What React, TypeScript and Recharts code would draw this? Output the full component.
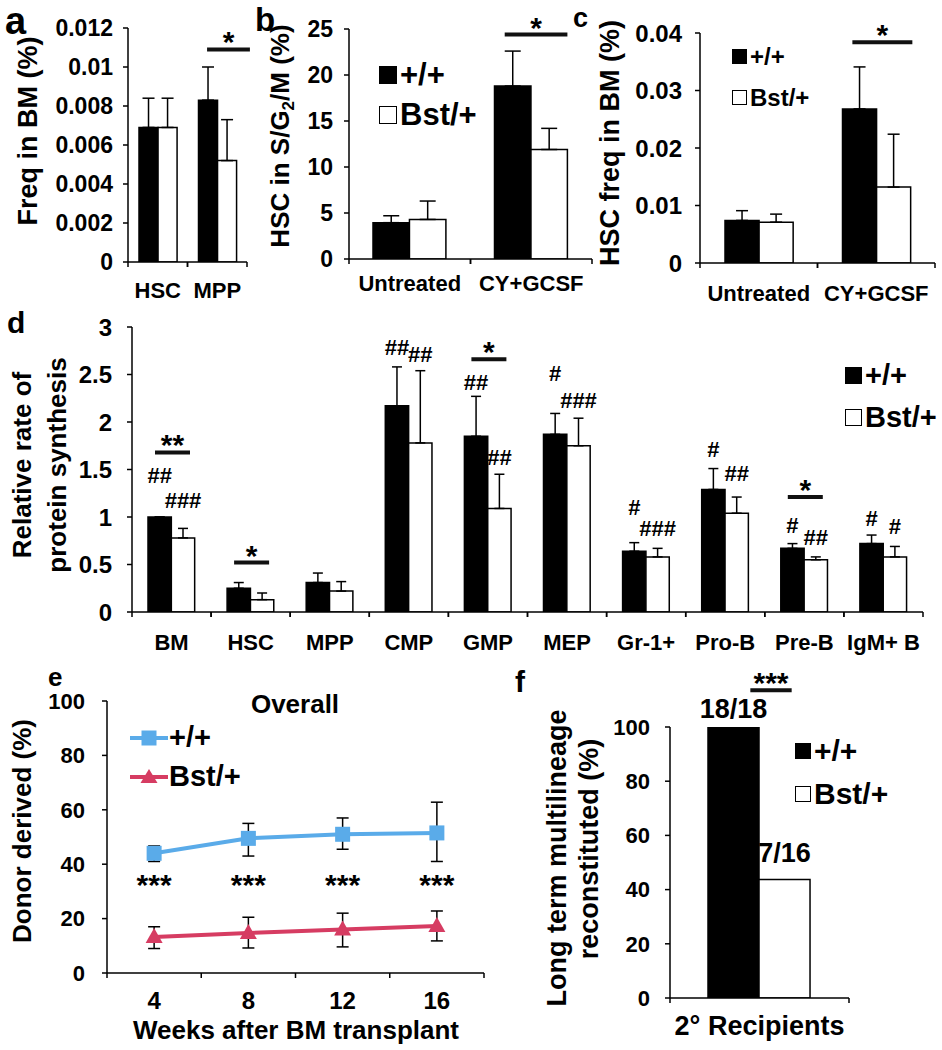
import React from 'react'
import {
  BarChart, Bar, LineChart, Line, XAxis, YAxis, ErrorBar, LabelList, Legend,
} from 'recharts'

const FONT = '"Liberation Sans", Arial, Helvetica, sans-serif'
const BLUE = '#5aabe9'
const RED = '#d63c62'
const AXIS = { stroke: '#000', strokeWidth: 1.5 }

// a: frequency in BM
const aCats = ['HSC', 'MPP']
const aWT = [0.0069, 0.0083]
const aWTTop = [0.0084, 0.01]
const aBst = [0.0069, 0.0052]
const aBstTop = [0.0084, 0.0073]
const aSig = ['', '*']
const aSigAt = [0, 0.0109]
const aTicks = [0, 0.002, 0.004, 0.006, 0.008, 0.01, 0.012]

// b: HSC in S/G2/M
const bCats = ['Untreated', 'CY+GCSF']
const bWT = [3.95, 18.8]
const bWTTop = [4.7, 22.6]
const bBst = [4.3, 11.9]
const bBstTop = [6.3, 14.2]
const bSig = ['', '*']
const bSigAt = [0, 24.4]
const bTicks = [0, 5, 10, 15, 20, 25]

// c: HSC freq in BM
const cCats = ['Untreated', 'CY+GCSF']
const cWT = [0.0074, 0.0268]
const cWTTop = [0.0091, 0.0341]
const cBst = [0.0071, 0.0132]
const cBstTop = [0.0085, 0.0224]
const cSig = ['', '*']
const cSigAt = [0, 0.0384]
const cTicks = [0, 0.01, 0.02, 0.03, 0.04]

// d: relative rate of protein synthesis
const dCats = ['BM', 'HSC', 'MPP', 'CMP', 'GMP', 'MEP', 'Gr-1+', 'Pro-B', 'Pre-B', 'IgM+ B']
const dWT = [1.0, 0.25, 0.31, 2.17, 1.85, 1.87, 0.64, 1.29, 0.67, 0.72]
const dWTTop = [1.0, 0.31, 0.41, 2.58, 2.27, 2.09, 0.73, 1.51, 0.72, 0.81]
const dBst = [0.78, 0.13, 0.22, 1.78, 1.09, 1.75, 0.58, 1.04, 0.55, 0.58]
const dBstTop = [0.88, 0.2, 0.32, 2.54, 1.45, 2.04, 0.67, 1.21, 0.58, 0.69]
const dSig = ['**', '*', '', '', '*', '', '', '', '*', '']
const dSigAt = [1.68, 0.52, 0, 0, 2.66, 0, 0, 0, 1.21, 0]
const dWTMark = ['##', '', '', '##', '##', '#', '#', '#', '#', '#']
const dWTMarkAt = [1.44, 0, 0, 2.79, 2.42, 2.52, 1.11, 1.72, 0.92, 0.99]
const dBstMark = ['###', '', '', '##', '##', '###', '###', '##', '##', '#']
const dBstMarkAt = [1.18, 0, 0, 2.72, 1.63, 2.23, 0.88, 1.46, 0.79, 0.91]
const dTicks = [0, 0.5, 1, 1.5, 2, 2.5, 3]

// e: donor derived over time
const eWeeks = [4, 8, 12, 16]
const eWT = [44, 49.5, 51, 51.5]
const eWTLo = [41, 43, 45.5, 41]
const eWTHi = [46.7, 55, 57, 62.8]
const eBst = [13.2, 14.7, 16, 17.3]
const eBstLo = [9, 9.2, 9.6, 11.8]
const eBstHi = [17, 20.5, 22, 22.8]
const eStars = ['***', '***', '***', '***']
const eStarAt = [35, 35, 35, 35]
const eTicks = [2, 4, 6, 8, 10, 12, 14, 16, 18]
const eYTicks = [0, 20, 40, 60, 80, 100]

// f: secondary recipients
const fCats = ['2° Recipients']
const fWT = [100]
const fBst = [43.75]
const fWTText = ['18/18']
const fBstText = ['7/16']
const fSig = ['***']
const fSigAt = [113.6]
const fTicks = [0, 20, 40, 60, 80, 100]

const geom = (p: any) => (p.viewBox && typeof p.viewBox.height === 'number' ? p.viewBox : p)

const vText = (x: number, y: number, size: number, children: React.ReactNode) => (
  <text x={x} y={y} transform={`rotate(-90 ${x} ${y})`} textAnchor="middle"
    fontSize={size} fontWeight={700} fill="#000" fontFamily={FONT}>{children}</text>
)

const sigLabel = (sig: string[], at: number[], vals: number[], span: number[]) => (p: any) => {
  const i = p.index
  if (!sig[i]) return null
  const v = geom(p)
  const ly = v.y + v.height - at[i] * (v.height / vals[i])
  const x1 = v.x + span[0] * v.width
  const x2 = v.x + span[1] * v.width
  return (
    <g>
      <line x1={x1} x2={x2} y1={ly} y2={ly} stroke="#111" strokeWidth={4} />
      <text x={(x1 + x2) / 2} y={ly + 3} textAnchor="middle" fontSize={30} fontWeight={700} fill="#000">{sig[i]}</text>
    </g>
  )
}

const hashLabel = (marks: string[], at: number[], vals: number[]) => (p: any) => {
  const i = p.index
  if (!marks[i]) return null
  const v = geom(p)
  const y = v.y + v.height - at[i] * (v.height / vals[i])
  return (
    <text x={v.x + v.width / 2} y={y + 8} textAnchor="middle" fontSize={22} fontWeight={700} fill="#000">{marks[i]}</text>
  )
}

const topLabel = (txt: string[], off: number) => (p: any) => {
  const v = geom(p)
  return (
    <text x={v.x + v.width / 2} y={v.y - off} textAnchor="middle" fontSize={27} fontWeight={700} fill="#000">{txt[p.index]}</text>
  )
}

// category ticks with tick marks on the band edges (excel style)
const catTick = (band: number, font: number, tm: number) => (p: any) => {
  const ay = p.y - tm - 5
  return (
    <g>
      <line x1={p.x - band / 2} x2={p.x - band / 2} y1={ay} y2={ay + 5} stroke="#000" strokeWidth={1.5} />
      <line x1={p.x + band / 2} x2={p.x + band / 2} y1={ay} y2={ay + 5} stroke="#000" strokeWidth={1.5} />
      <text x={p.x} y={p.y} dy="0.71em" textAnchor="middle" fontSize={font} fontWeight={700} fill="#000">{p.payload.value}</text>
    </g>
  )
}

const weekTick = (font: number, tm: number) => (p: any) => {
  const v = p.payload.value
  if (v % 4 === 2) {
    return <line x1={p.x} x2={p.x} y1={p.y - tm - 5} y2={p.y - tm} stroke="#000" strokeWidth={1.5} />
  }
  return <text x={p.x} y={p.y} dy="0.71em" textAnchor="middle" fontSize={font} fontWeight={700} fill="#000">{v}</text>
}

type Lg = { left: number, top: number, row: number, size: number, font: number }

const boxLegend = (L: Lg) => (p: any) => (
  <div style={{ fontFamily: FONT, fontWeight: 700, fontSize: L.font, color: '#000' }}>
    {(p.payload ?? []).map((e: any) => (
      <div key={e.value} style={{ display: 'flex', alignItems: 'center', height: L.row }}>
        <span style={{
          width: L.size, height: L.size, boxSizing: 'border-box', marginRight: 3,
          background: e.payload?.fill ?? e.color, border: '1.5px solid #000',
        }} />
        <span>{e.value}</span>
      </div>
    ))}
  </div>
)

const lineLegend = (p: any) => (
  <div style={{ fontFamily: FONT, fontWeight: 700, fontSize: 29, color: '#000' }}>
    {(p.payload ?? []).filter((e: any) => e.dataKey !== 'star' && e.type !== 'none').map((e: any, i: number) => (
      <div key={e.value} style={{ display: 'flex', alignItems: 'center', height: 39 }}>
        <svg width={38} height={20}>
          <line x1={0} x2={38} y1={10} y2={10} stroke={e.color} strokeWidth={4} />
          {i === 0
            ? <rect x={11.5} y={2.5} width={15} height={15} fill={e.color} />
            : <path d="M19,2 L27.5,16 L10.5,16 Z" fill={e.color} />}
        </svg>
        <span style={{ marginLeft: 1 }}>{e.value}</span>
      </div>
    ))}
  </div>
)

type Box = { left: number, top: number, w: number, h: number }
type Mg = { top: number, right: number, bottom: number, left: number }

function GroupBars(p: {
  box: Box, margin: Mg, yW: number, xH: number,
  cats: string[], wt: number[], bst: number[], wtTop?: number[], bstTop?: number[],
  ticks: number[], yFont: number, yTm: number, xFont: number, xTm: number,
  cap: number, fill: number, title: React.ReactNode, legend?: Lg,
  sig: string[], sigAt: number[], sigSpan: number[],
  wtMark?: string[], wtMarkAt?: number[], bstMark?: string[], bstMarkAt?: number[],
  wtText?: string[], bstText?: string[],
}) {
  const data = p.cats.map((cat, i) => ({
    cat,
    wt: p.wt[i],
    bst: p.bst[i],
    wtErr: [0, p.wtTop ? p.wtTop[i] - p.wt[i] : 0],
    bstErr: [0, p.bstTop ? p.bstTop[i] - p.bst[i] : 0],
  }))
  const band = (p.box.w - p.margin.left - p.margin.right - p.yW) / p.cats.length
  const barW = (band * p.fill) / 2
  const L = p.legend
  return (
    <div style={{ position: 'absolute', left: p.box.left, top: p.box.top }}>
      <BarChart width={p.box.w} height={p.box.h} data={data} margin={p.margin} barGap={0}>
        <XAxis dataKey="cat" height={p.xH} interval={0} axisLine={AXIS} tickLine={false}
          tickSize={5} tickMargin={p.xTm} tick={catTick(band, p.xFont, p.xTm)} />
        <YAxis width={p.yW} domain={[p.ticks[0], p.ticks[p.ticks.length - 1]]} ticks={p.ticks}
          interval={0} allowDataOverflow axisLine={AXIS} tickLine={AXIS} tickSize={5} tickMargin={p.yTm}
          tick={{ fill: '#000', fontSize: p.yFont, fontWeight: 700 }} label={() => p.title} />
        <Bar dataKey="wt" name="+/+" fill="#000" stroke="#000" strokeWidth={1.5} barSize={barW} isAnimationActive={false}>
          {p.wtTop && (
            <ErrorBar dataKey="wtErr" width={p.cap} stroke="#000" strokeWidth={1.5} direction="y" isAnimationActive={false} />
          )}
          <LabelList content={sigLabel(p.sig, p.sigAt, p.wt, p.sigSpan)} />
          {p.wtMark && <LabelList content={hashLabel(p.wtMark, p.wtMarkAt!, p.wt)} />}
          {p.wtText && <LabelList content={topLabel(p.wtText, 9)} />}
        </Bar>
        <Bar dataKey="bst" name="Bst/+" fill="#fff" stroke="#000" strokeWidth={1.5} barSize={barW} isAnimationActive={false}>
          {p.bstTop && (
            <ErrorBar dataKey="bstErr" width={p.cap} stroke="#000" strokeWidth={1.5} direction="y" isAnimationActive={false} />
          )}
          {p.bstMark && <LabelList content={hashLabel(p.bstMark, p.bstMarkAt!, p.bst)} />}
          {p.bstText && <LabelList content={topLabel(p.bstText, 17)} />}
        </Bar>
        {L && (
          <Legend layout="vertical" align="center" verticalAlign="middle"
            wrapperStyle={{ left: L.left, top: L.top, width: 'auto', height: 'auto' }} content={boxLegend(L)} />
        )}
      </BarChart>
    </div>
  )
}

export default function App() {
  const eData = eWeeks.map((week, i) => ({
    week,
    wt: eWT[i],
    wtErr: [eWT[i] - eWTLo[i], eWTHi[i] - eWT[i]],
    bst: eBst[i],
    bstErr: [eBst[i] - eBstLo[i], eBstHi[i] - eBst[i]],
    star: eStarAt[i],
  }))

  const squareDot = (d: any) => (
    <rect key={`sq${d.index}`} x={d.cx - 7.5} y={d.cy - 7.5} width={15} height={15} fill={BLUE} />
  )
  const triDot = (d: any) => (
    <path key={`tr${d.index}`} d={`M${d.cx},${d.cy - 9} L${d.cx + 8.5},${d.cy + 6} L${d.cx - 8.5},${d.cy + 6} Z`} fill={RED} />
  )
  const starLabel = (s: any) => {
    const v = geom(s)
    return (
      <text x={v.x} y={v.y + 17} textAnchor="middle" fontSize={30} fontWeight={700} fill="#000">{eStars[s.index]}</text>
    )
  }

  return (
    <div style={{
      position: 'absolute', left: 0, top: 0, width: 942, height: 1050,
      background: '#fff', fontFamily: FONT, fontWeight: 700, overflow: 'hidden',
    }}>
      <svg width={942} height={1050} style={{ position: 'absolute', left: 0, top: 0 }}>
        <g fontFamily={FONT} fontWeight={700} fill="#000">
          <text x={5} y={34} fontSize={38}>a</text>
          <text x={255} y={31} fontSize={33}>b</text>
          <text x={573} y={27} fontSize={27}>c</text>
          <text x={7} y={333} fontSize={30}>d</text>
          <text x={48} y={686} fontSize={26}>e</text>
          <text x={515} y={692} fontSize={30}>f</text>
        </g>
      </svg>

      <GroupBars
        box={{ left: 0, top: 0, w: 262, h: 310 }} margin={{ top: 28, right: 15, bottom: 8, left: 0 }}
        yW={128} xH={40} cats={aCats} wt={aWT} wtTop={aWTTop} bst={aBst} bstTop={aBstTop}
        ticks={aTicks} yFont={23} yTm={10} xFont={22} xTm={15} cap={6} fill={0.64}
        title={vText(37, 131, 27, 'Freq in BM (%)')}
        sig={aSig} sigAt={aSigAt} sigSpan={[0.45, 2.7]}
      />

      <GroupBars
        box={{ left: 262, top: 0, w: 340, h: 310 }} margin={{ top: 29, right: 10, bottom: 11, left: 0 }}
        yW={87} xH={40} cats={bCats} wt={bWT} wtTop={bWTTop} bst={bBst} bstTop={bBstTop}
        ticks={bTicks} yFont={23} yTm={11} xFont={22} xTm={11} cap={8} fill={0.6}
        title={vText(27, 136, 26, <>HSC in S/G<tspan dy={5} fontSize={17}>2</tspan><tspan dy={-5}>/M (%)</tspan></>)}
        legend={{ left: 117, top: 55, row: 40, size: 18, font: 31 }}
        sig={bSig} sigAt={bSigAt} sigSpan={[0.28, 2.0]}
      />

      <GroupBars
        box={{ left: 588, top: 0, w: 354, h: 310 }} margin={{ top: 33, right: 7, bottom: 7, left: 0 }}
        yW={112} xH={40} cats={cCats} wt={cWT} wtTop={cWTTop} bst={cBst} bstTop={cBstTop}
        ticks={cTicks} yFont={24} yTm={13} xFont={22} xTm={17} cap={6} fill={0.58}
        title={vText(31, 143, 27, 'HSC freq in BM (%)')}
        legend={{ left: 144, top: 36, row: 41, size: 15, font: 24 }}
        sig={cSig} sigAt={cSigAt} sigSpan={[0.29, 2.05]}
      />

      <GroupBars
        box={{ left: 0, top: 300, w: 942, h: 360 }} margin={{ top: 27, right: 19, bottom: 8, left: 0 }}
        yW={132} xH={40} cats={dCats} wt={dWT} wtTop={dWTTop} bst={dBst} bstTop={dBstTop}
        ticks={dTicks} yFont={24} yTm={15} xFont={22} xTm={17} cap={5} fill={0.59}
        title={<g>{vText(31, 165, 26, 'Relative rate of')}{vText(66, 165, 26, 'protein synthesis')}</g>}
        legend={{ left: 845, top: 54, row: 42, size: 17, font: 29 }}
        sig={dSig} sigAt={dSigAt} sigSpan={[0.3, 1.8]}
        wtMark={dWTMark} wtMarkAt={dWTMarkAt} bstMark={dBstMark} bstMarkAt={dBstMarkAt}
      />

      <div style={{ position: 'absolute', left: 0, top: 660 }}>
        <LineChart width={500} height={390} data={eData} margin={{ top: 41, right: 16, bottom: 7, left: 0 }}>
          <XAxis type="number" dataKey="week" domain={[2, 18]} ticks={eTicks} interval={0} allowDataOverflow
            height={70} axisLine={AXIS} tickLine={false} tickSize={5} tickMargin={14} tick={weekTick(24, 14)}
            label={() => (
              <text x={296} y={379} textAnchor="middle" fontSize={26} fontWeight={700} fill="#000">Weeks after BM transplant</text>
            )} />
          <YAxis width={107} domain={[0, 100]} ticks={eYTicks} interval={0} allowDataOverflow
            axisLine={AXIS} tickLine={AXIS} tickSize={5} tickMargin={17}
            tick={{ fill: '#000', fontSize: 22, fontWeight: 700 }}
            label={() => (
              <g>
                {vText(31, 171, 26, 'Donor derived (%)')}
                <text x={295} y={53} textAnchor="middle" fontSize={26} fontWeight={700} fill="#000">Overall</text>
              </g>
            )} />
          <Line dataKey="wt" name="+/+" stroke={BLUE} strokeWidth={4} dot={squareDot} activeDot={false} isAnimationActive={false}>
            <ErrorBar dataKey="wtErr" width={6} stroke="#000" strokeWidth={1.5} direction="y" isAnimationActive={false} />
          </Line>
          <Line dataKey="bst" name="Bst/+" stroke={RED} strokeWidth={4} dot={triDot} activeDot={false} isAnimationActive={false}>
            <ErrorBar dataKey="bstErr" width={6} stroke="#000" strokeWidth={1.5} direction="y" isAnimationActive={false} />
          </Line>
          <Line dataKey="star" stroke="none" dot={false} activeDot={false} legendType="none" isAnimationActive={false}>
            <LabelList content={starLabel} />
          </Line>
          <Legend layout="vertical" align="center" verticalAlign="middle"
            wrapperStyle={{ left: 130, top: 58, width: 'auto', height: 'auto' }} content={lineLegend} />
        </LineChart>
      </div>

      <GroupBars
        box={{ left: 540, top: 640, w: 402, h: 410 }} margin={{ top: 87, right: 93, bottom: 2, left: 0 }}
        yW={130} xH={50} cats={fCats} wt={fWT} bst={fBst}
        ticks={fTicks} yFont={22} yTm={15} xFont={27} xTm={13} cap={6} fill={0.57}
        title={<g>{vText(26, 218, 27, 'Long term multilineage')}{vText(58, 209, 27, 'reconstituted (%)')}</g>}
        legend={{ left: 255, top: 89, row: 43, size: 16, font: 30 }}
        sig={fSig} sigAt={fSigAt} sigSpan={[0.83, 1.64]}
        wtText={fWTText} bstText={fBstText}
      />
    </div>
  )
}
